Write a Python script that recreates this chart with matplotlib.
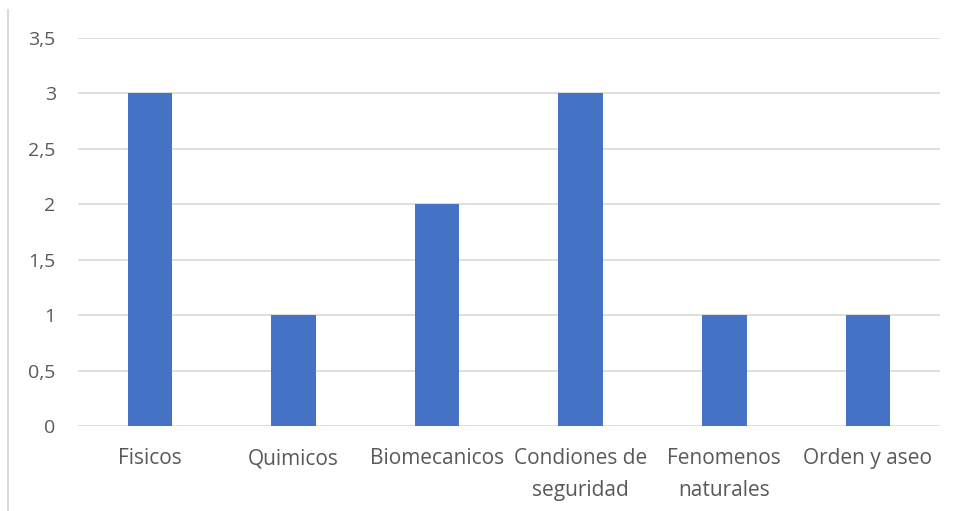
import matplotlib
matplotlib.use('Agg')
import matplotlib.pyplot as plt
from matplotlib.lines import Line2D

categorias = ['Fisicos', 'Quimicos', 'Biomecanicos', 'Condiones de\nseguridad',
              'Fenomenos\nnaturales', 'Orden y aseo']
valores = [3, 1, 2, 3, 1, 1]
ticks_y = [0, 0.5, 1, 1.5, 2, 2.5, 3, 3.5]
etiquetas_y = ['0', '0,5', '1', '1,5', '2', '2,5', '3', '3,5']

plt.rcParams['font.family'] = ['Open Sans', 'DejaVu Sans']

fig = plt.figure(figsize=(9.59, 5.11), dpi=100)
ax = fig.add_axes([0.0813, 0.1663, 0.8987, 0.7593])

x = range(len(categorias))
ax.bar(x, valores, width=0.31, color='#4472C4', zorder=3)

ax.set_xlim(-0.5, len(categorias) - 0.5)
ax.set_ylim(0, 3.5)
ax.set_yticks(ticks_y)
ax.set_yticklabels(etiquetas_y, fontsize=14)
ax.set_xticks(list(x))
ax.set_xticklabels(categorias, linespacing=1.65, fontsize=15)

ax.grid(axis='y', color='#D9D9D9', linewidth=1.2, zorder=0)
for s in ax.spines.values():
    s.set_visible(False)
ax.tick_params(axis='both', length=0, colors='#595959')
ax.tick_params(axis='y', pad=16)
ax.tick_params(axis='x', pad=16)

# borde gris a la izquierda
fig.add_artist(Line2D([0.0085, 0.0085], [0.0, 0.98], color='#D9D9D9',
                      linewidth=1.5, transform=fig.transFigure))

fig.savefig('out.png', dpi=100)
